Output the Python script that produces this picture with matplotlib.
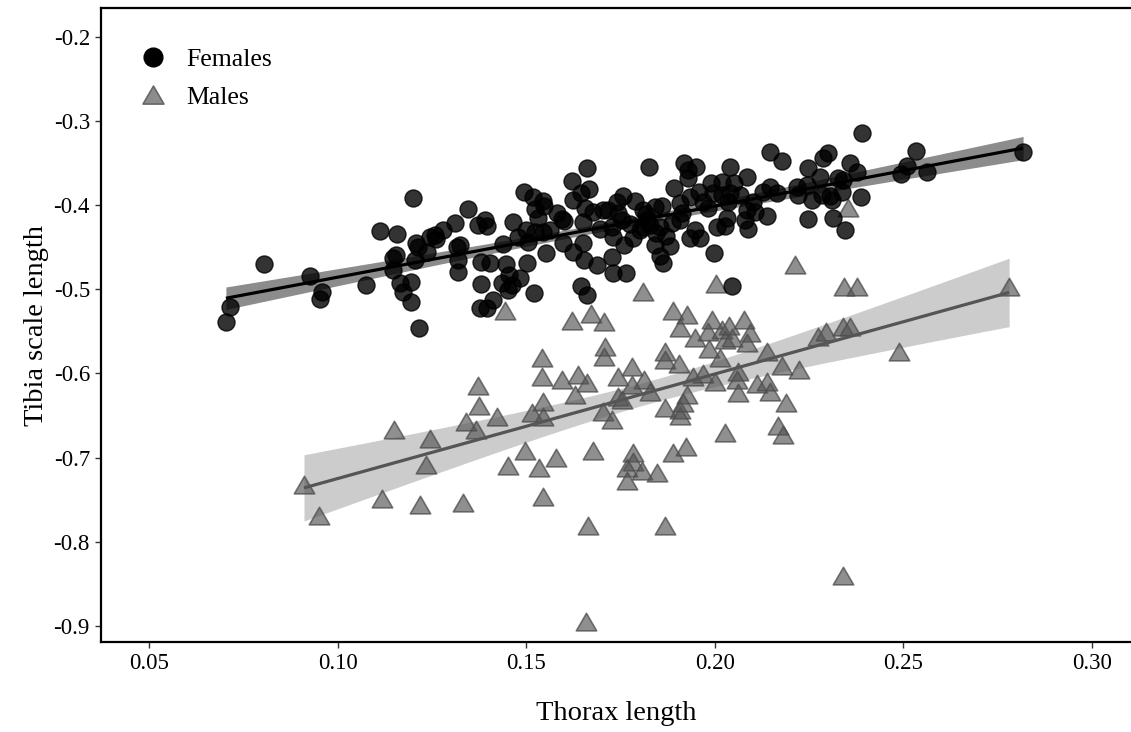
import numpy as np
import matplotlib
matplotlib.use("Agg")
import matplotlib.pyplot as plt
from matplotlib.lines import Line2D
from matplotlib.path import Path

plt.rcParams['font.family'] = ['Liberation Serif', 'DejaVu Serif']

# ---------------- data ----------------
female_x = [0.0704, 0.0715, 0.0805, 0.0927, 0.0959, 0.0953, 0.1075, 0.1200, 0.1112, 0.1157,
            0.1147, 0.1155, 0.1147, 0.1165, 0.1173, 0.1195, 0.1195, 0.1216, 0.1208, 0.1213,
            0.1205, 0.1245, 0.1237, 0.1258, 0.1261, 0.1279, 0.1311, 0.1346, 0.1317, 0.1325,
            0.1319, 0.1319, 0.1372, 0.1391, 0.1396, 0.1380, 0.1404, 0.1380, 0.1378, 0.1396,
            0.1412, 0.1439, 0.1446, 0.1465, 0.1436, 0.1454, 0.1452, 0.1462, 0.1484, 0.1478,
            0.1502, 0.1499, 0.1505, 0.1521, 0.1494, 0.1518, 0.1545, 0.1523, 0.1531, 0.1547,
            0.1523, 0.1545, 0.1563, 0.1553, 0.1582, 0.1595, 0.1600, 0.1598, 0.1624, 0.1621,
            0.1645, 0.1624, 0.1661, 0.1666, 0.1656, 0.1651, 0.1651, 0.1653, 0.1645, 0.1661,
            0.1677, 0.1688, 0.1704, 0.1717, 0.1727, 0.1730, 0.1765, 0.1741, 0.1757, 0.1788,
            0.1754, 0.1727, 0.1730, 0.1759, 0.1783, 0.1802, 0.1810, 0.1826, 0.1918, 0.1929,
            0.1950, 0.1929, 0.1892, 0.1908, 0.1934, 0.1958, 0.1990, 0.2019, 0.2040, 0.2051,
            0.1995, 0.2019, 0.2040, 0.2067, 0.2085, 0.1969, 0.1982, 0.2035, 0.2101, 0.2138,
            0.2085, 0.2080, 0.2088, 0.2106, 0.2032, 0.2027, 0.2006, 0.1998, 0.1947, 0.1961,
            0.1934, 0.1913, 0.1908, 0.1887, 0.1855, 0.1841, 0.1860, 0.1820, 0.1810, 0.1881,
            0.1841, 0.1855, 0.1863, 0.2046, 0.2146, 0.2178, 0.2247, 0.2279, 0.2287, 0.2300,
            0.2358, 0.2377, 0.2390, 0.2327, 0.2340, 0.2218, 0.2245, 0.2258, 0.2284, 0.2305,
            0.2337, 0.2311, 0.2247, 0.2313, 0.2345, 0.2388, 0.2146, 0.2128, 0.2165, 0.2221,
            0.2533, 0.2510, 0.2494, 0.2563, 0.2817, 0.1828, 0.1844, 0.1818, 0.1871, 0.1775,
            0.1743, 0.1696]
female_y = [-0.5387, -0.5209, -0.4697, -0.4840, -0.5030, -0.5114, -0.4947, -0.3912, -0.4305, -0.4340,
            -0.4626, -0.4590, -0.4769, -0.4923, -0.5030, -0.4911, -0.5149, -0.5459, -0.4447, -0.4495,
            -0.4650, -0.4376, -0.4554, -0.4352, -0.4400, -0.4293, -0.4209, -0.4043, -0.4495, -0.4471,
            -0.4650, -0.4792, -0.4233, -0.4174, -0.4245, -0.4674, -0.4686, -0.4935, -0.5221, -0.5221,
            -0.5126, -0.4459, -0.4697, -0.4197, -0.4923, -0.4828, -0.5007, -0.4947, -0.4864, -0.4376,
            -0.4686, -0.4293, -0.4435, -0.5042, -0.3841, -0.3900, -0.3948, -0.4043, -0.4150, -0.4007,
            -0.4317, -0.4317, -0.4293, -0.4566, -0.4091, -0.4162, -0.4186, -0.4447, -0.4554, -0.3710,
            -0.3853, -0.3936, -0.3555, -0.3805, -0.4031, -0.4197, -0.4447, -0.4650, -0.4959, -0.5066,
            -0.4079, -0.4709, -0.4055, -0.4055, -0.4614, -0.4805, -0.4805, -0.3960, -0.3888, -0.3948,
            -0.4174, -0.4257, -0.4376, -0.4471, -0.4388, -0.4293, -0.4055, -0.3543, -0.3496, -0.3579,
            -0.3543, -0.3674, -0.3793, -0.3972, -0.3900, -0.3841, -0.3734, -0.3722, -0.3543, -0.3734,
            -0.3853, -0.3876, -0.3853, -0.3876, -0.3662, -0.3960, -0.4031, -0.3960, -0.3960, -0.4126,
            -0.4055, -0.4174, -0.4281, -0.4079, -0.4150, -0.4245, -0.4257, -0.4566, -0.4293, -0.4388,
            -0.4388, -0.4091, -0.4174, -0.4209, -0.4257, -0.4019, -0.4007, -0.4174, -0.4257, -0.4483,
            -0.4471, -0.4602, -0.4686, -0.4959, -0.3365, -0.3472, -0.3555, -0.3662, -0.3436, -0.3377,
            -0.3496, -0.3603, -0.3139, -0.3674, -0.3698, -0.3781, -0.3757, -0.3936, -0.3876, -0.3888,
            -0.3841, -0.3936, -0.4162, -0.4150, -0.4293, -0.3900, -0.3781, -0.3841, -0.3853, -0.3876,
            -0.3353, -0.3531, -0.3627, -0.3603, -0.3365, -0.4233, -0.4328, -0.4103, -0.4364, -0.4221,
            -0.4091, -0.4281]

male_x = [0.0911, 0.0951, 0.1150, 0.1245, 0.1234, 0.1118, 0.1218, 0.1332, 0.1372, 0.1375,
          0.1340, 0.1367, 0.1423, 0.1444, 0.1810, 0.1621, 0.1672, 0.1706, 0.1889, 0.1926,
          0.1908, 0.1948, 0.1982, 0.1709, 0.1706, 0.1868, 0.1868, 0.1905, 0.1985, 0.1542,
          0.1542, 0.1595, 0.1637, 0.1661, 0.1629, 0.1743, 0.1781, 0.1812, 0.1781, 0.1743,
          0.1754, 0.1828, 0.1545, 0.1515, 0.1545, 0.1704, 0.1727, 0.1868, 0.1908, 0.1908,
          0.1942, 0.1969, 0.1926, 0.1916, 0.1497, 0.1579, 0.1452, 0.1534, 0.1677, 0.1783,
          0.1783, 0.1767, 0.1807, 0.1847, 0.1767, 0.1889, 0.1924, 0.1545, 0.1664, 0.1868,
          0.2213, 0.2003, 0.2342, 0.2377, 0.1993, 0.2019, 0.2038, 0.2077, 0.2093, 0.2085,
          0.2014, 0.2027, 0.2046, 0.2138, 0.2001, 0.2062, 0.2059, 0.2178, 0.2223, 0.2112,
          0.2138, 0.2146, 0.2062, 0.2189, 0.2168, 0.2181, 0.2027, 0.2274, 0.2295, 0.2340,
          0.2358, 0.2488, 0.2780, 0.1659, 0.2340, 0.2353]
male_y = [-0.7327, -0.7696, -0.6672, -0.6779, -0.7089, -0.7493, -0.7565, -0.7541, -0.6149, -0.6387,
          -0.6577, -0.6672, -0.6518, -0.5257, -0.5030, -0.5375, -0.5292, -0.5387, -0.5257, -0.5304,
          -0.5459, -0.5578, -0.5506, -0.5685, -0.5804, -0.5744, -0.5839, -0.5887, -0.5709, -0.5816,
          -0.6042, -0.6078, -0.6018, -0.6113, -0.6256, -0.6042, -0.5923, -0.6078, -0.6137, -0.6280,
          -0.6315, -0.6220, -0.6339, -0.6470, -0.6518, -0.6458, -0.6553, -0.6411, -0.6434, -0.6506,
          -0.6042, -0.6006, -0.6256, -0.6351, -0.6922, -0.7006, -0.7101, -0.7125, -0.6922, -0.6946,
          -0.7053, -0.7125, -0.7160, -0.7184, -0.7279, -0.6946, -0.6875, -0.7470, -0.7815, -0.7815,
          -0.4709, -0.4935, -0.4971, -0.4971, -0.5364, -0.5483, -0.5435, -0.5364, -0.5518, -0.5637,
          -0.5816, -0.5602, -0.5578, -0.5744, -0.6101, -0.5982, -0.6078, -0.5911, -0.5959, -0.6125,
          -0.6101, -0.6220, -0.6232, -0.6351, -0.6625, -0.6732, -0.6708, -0.5566, -0.5506, -0.5447,
          -0.5447, -0.5744, -0.4971, -0.8957, -0.8409, -0.4031]

group_labels = ["Females", "Males"]
x_ticks = [0.05, 0.10, 0.15, 0.20, 0.25, 0.30]
y_ticks = [-0.9, -0.8, -0.7, -0.6, -0.5, -0.4, -0.3, -0.2]
x_label = "Thorax length"
y_label = "Tibia scale length"


def lm_band(x, y, n_grid=100, t=1.97):
    x = np.asarray(x); y = np.asarray(y)
    b, a = np.polyfit(x, y, 1)
    xs = np.linspace(x.min(), x.max(), n_grid)
    pred = a + b * xs
    resid = y - (a + b * x)
    n = len(x)
    s = np.sqrt(np.sum(resid ** 2) / (n - 2))
    sxx = np.sum((x - x.mean()) ** 2)
    se = s * np.sqrt(1.0 / n + (xs - x.mean()) ** 2 / sxx)
    return xs, pred, pred - t * se, pred + t * se


fig = plt.figure(figsize=(11.31, 7.32), dpi=100)
ax = fig.add_axes([101 / 1131, 1 - 642 / 732, 1 - 101 / 1131, (642 - 8.4) / 732])

# triangle marker
tri = Path([(-1, -0.82), (1, -0.82), (0, 0.9), (-1, -0.82)],
           [Path.MOVETO, Path.LINETO, Path.LINETO, Path.CLOSEPOLY])

# confidence bands
fx, fp, flo, fhi = lm_band(female_x, female_y)
mx, mp, mlo, mhi = lm_band(male_x, male_y)
ax.fill_between(mx, mlo, mhi, color='#cccccc', lw=0, zorder=1)
ax.fill_between(fx, flo, fhi, color='#8c8c8c', lw=0, zorder=1)

# points
ax.scatter(male_x, male_y, marker=tri, s=215,
           facecolors=[(0.33, 0.33, 0.33, 0.65)], edgecolors=[(0.3, 0.3, 0.3, 0.75)],
           linewidths=1.2, zorder=2)
ax.scatter(female_x, female_y, marker='o', s=150,
           facecolors=[(0, 0, 0, 0.8)], edgecolors=[(0, 0, 0, 0.8)],
           linewidths=1.0, zorder=3)

# fitted lines
ax.plot(mx, mp, color='#555555', lw=2.3, zorder=4, solid_capstyle='butt')
ax.plot(fx, fp, color='black', lw=2.3, zorder=4, solid_capstyle='butt')

ax.set_xlim(0.0373, 0.3103)
ax.set_ylim(-0.9195, -0.1656)
ax.set_xticks(x_ticks)
ax.set_xticklabels([f"{v:.2f}" for v in x_ticks])
ax.set_yticks(y_ticks)
ax.set_yticklabels([f"{v:.1f}" for v in y_ticks])
ax.tick_params(axis='both', labelsize=16.5, length=4.5, width=1.0, pad=3.5, colors='#333333',
               labelcolor='black')

for side in ['left', 'bottom', 'top']:
    ax.spines[side].set_linewidth(1.6)
    ax.spines[side].set_color('black')
ax.spines['right'].set_visible(False)

ax.set_xlabel(x_label, fontsize=20.5, labelpad=19)
ax.set_ylabel(y_label, fontsize=20.5, labelpad=3.5)

handles = [Line2D([], [], ls='none', marker='o', markersize=13.5, markerfacecolor='black',
                  markeredgecolor='black'),
           Line2D([], [], ls='none', marker=tri, markersize=15, markerfacecolor='#8c8c8c',
                  markeredgecolor='#666666', markeredgewidth=1.2)]
ax.legend(handles, group_labels, loc='upper left', bbox_to_anchor=(0.017, 0.962), frameon=False,
          fontsize=18.5, handletextpad=0.55, labelspacing=0.6, borderaxespad=0.2,
          handlelength=1.5)

fig.savefig("out.png", dpi=100)
